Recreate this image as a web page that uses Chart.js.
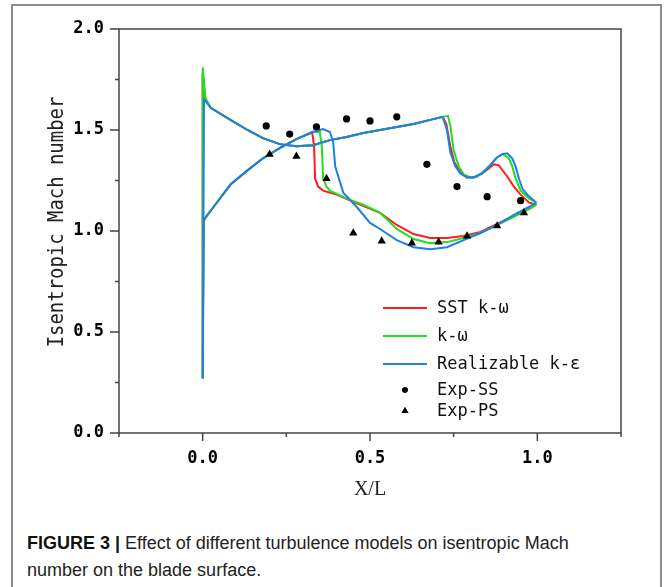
<!DOCTYPE html>
<html lang="en">
<head>
  <meta charset="UTF-8">
  <title>Isentropic Mach number on the blade surface</title>
  <script src="https://cdn.jsdelivr.net/npm/chart.js"></script>
  <style>
    body {
      margin: 0;
      width: 664px;
      height: 587px;
      overflow: hidden;
      position: relative;
      background: #fff;
      font-family: 'Liberation Sans', Arial, sans-serif;
    }

    .frame {
      position: absolute;
      left: 11px;
      top: 4px;
      width: 647px;
      height: 640px;
      border: 2px solid #8c8c8c;
    }

    #machChart {
      position: absolute;
      left: 0;
      top: 0;
    }

    .caption {
      position: absolute;
      left: 27px;
      top: 530px;
      font-size: 18px;
      line-height: 27px;
      color: #222;
    }

    .caption b {
      color: #111;
    }
  </style>
</head>
<body>

  <div class="frame"></div>
  <canvas id="machChart" width="664" height="510"></canvas>

  <div class="caption">
    <b>FIGURE 3 |</b> Effect of different turbulence models on isentropic Mach<br>
    number on the blade surface.
  </div>

  <script>
    // SST k-omega: pressure side and suction side (suction side starts at the stagnation point)
    const sstPsX = [0.003, 0.01, 0.033, 0.083, 0.134, 0.18, 0.23, 0.28, 0.327, 0.333, 0.336, 0.345, 0.36, 0.40, 0.45, 0.53, 0.58, 0.63, 0.68, 0.73, 0.78, 0.83, 0.88, 0.93, 0.976, 0.997];
    const sstPsM = [1.05, 1.07, 1.12, 1.23, 1.30, 1.36, 1.41, 1.455, 1.49, 1.42, 1.26, 1.22, 1.20, 1.18, 1.145, 1.09, 1.03, 0.985, 0.965, 0.965, 0.975, 0.995, 1.035, 1.075, 1.11, 1.13];
    const sstSsX = [0, 0, 0.008, 0.024, 0.083, 0.134, 0.18, 0.23, 0.28, 0.33, 0.38, 0.43, 0.48, 0.53, 0.58, 0.63, 0.68, 0.717, 0.728, 0.74, 0.752, 0.77, 0.79, 0.81, 0.835, 0.855, 0.87, 0.885, 0.91, 0.93, 0.95, 0.976, 0.997];
    const sstSsM = [0.27, 1.78, 1.65, 1.61, 1.55, 1.50, 1.46, 1.43, 1.42, 1.425, 1.45, 1.465, 1.485, 1.50, 1.515, 1.53, 1.55, 1.565, 1.53, 1.42, 1.34, 1.29, 1.265, 1.265, 1.285, 1.31, 1.33, 1.325, 1.27, 1.22, 1.18, 1.14, 1.13];

    // k-omega
    const kwPsX = [0.003, 0.01, 0.033, 0.083, 0.134, 0.18, 0.23, 0.28, 0.33, 0.35, 0.356, 0.36, 0.37, 0.38, 0.43, 0.48, 0.53, 0.58, 0.63, 0.68, 0.73, 0.78, 0.83, 0.88, 0.93, 0.976, 0.997];
    const kwPsM = [1.05, 1.07, 1.12, 1.23, 1.30, 1.36, 1.41, 1.455, 1.49, 1.49, 1.42, 1.26, 1.22, 1.20, 1.16, 1.13, 1.09, 1.01, 0.96, 0.94, 0.945, 0.965, 0.99, 1.03, 1.07, 1.11, 1.13];
    const kwSsX = [0, 0, 0.008, 0.024, 0.083, 0.134, 0.18, 0.23, 0.28, 0.33, 0.38, 0.43, 0.48, 0.53, 0.58, 0.63, 0.68, 0.717, 0.733, 0.74, 0.75, 0.765, 0.78, 0.80, 0.82, 0.84, 0.86, 0.88, 0.896, 0.915, 0.925, 0.935, 0.95, 0.976, 0.997];
    const kwSsM = [0.27, 1.81, 1.66, 1.61, 1.55, 1.50, 1.46, 1.43, 1.42, 1.425, 1.45, 1.465, 1.485, 1.50, 1.515, 1.53, 1.55, 1.565, 1.57, 1.52, 1.40, 1.32, 1.28, 1.265, 1.27, 1.295, 1.33, 1.365, 1.38, 1.36, 1.32, 1.26, 1.20, 1.16, 1.14];

    // Realizable k-epsilon
    const rkePsX = [0.003, 0.01, 0.033, 0.083, 0.134, 0.18, 0.23, 0.28, 0.33, 0.36, 0.38, 0.39, 0.396, 0.42, 0.46, 0.50, 0.53, 0.58, 0.63, 0.68, 0.73, 0.78, 0.83, 0.88, 0.93, 0.976, 0.997];
    const rkePsM = [1.05, 1.07, 1.12, 1.23, 1.30, 1.36, 1.41, 1.455, 1.49, 1.505, 1.49, 1.44, 1.32, 1.19, 1.12, 1.04, 1.01, 0.955, 0.92, 0.91, 0.92, 0.955, 0.99, 1.03, 1.08, 1.12, 1.14];
    const rkeSsX = [0, 0.004, 0.01, 0.024, 0.083, 0.134, 0.18, 0.23, 0.28, 0.33, 0.38, 0.43, 0.48, 0.53, 0.58, 0.63, 0.68, 0.717, 0.73, 0.74, 0.755, 0.77, 0.79, 0.81, 0.835, 0.857, 0.877, 0.895, 0.91, 0.925, 0.935, 0.945, 0.955, 0.97, 0.99, 0.997];
    const rkeSsM = [0.27, 1.65, 1.64, 1.61, 1.55, 1.50, 1.46, 1.43, 1.42, 1.425, 1.45, 1.465, 1.485, 1.50, 1.515, 1.53, 1.55, 1.565, 1.50, 1.39, 1.32, 1.285, 1.265, 1.265, 1.285, 1.32, 1.36, 1.38, 1.385, 1.36, 1.32, 1.26, 1.21, 1.18, 1.15, 1.14];

    // measurements
    const expSsX = [0.19, 0.26, 0.34, 0.43, 0.50, 0.58, 0.67, 0.76, 0.85, 0.95];
    const expSsM = [1.52, 1.48, 1.515, 1.555, 1.545, 1.565, 1.33, 1.22, 1.17, 1.15];
    const expPsX = [0.20, 0.28, 0.37, 0.45, 0.535, 0.625, 0.705, 0.79, 0.88, 0.96];
    const expPsM = [1.38, 1.37, 1.26, 0.99, 0.95, 0.94, 0.945, 0.975, 1.025, 1.09];

    const xTicks = [0, 0.5, 1.0];
    const xMinor = [-0.25, 0.25, 0.75, 1.25];
    const yTicks = [0, 0.5, 1.0, 1.5, 2.0];
    const yMinor = [0.25, 0.75, 1.25, 1.75];

    const monoFont = '"DejaVu Sans Mono", "Liberation Mono", monospace';

    function toPoints(xs, ms) {
      return xs.map((x, i) => ({ x: x, y: ms[i] }));
    }

    // one closed loop per model: trailing edge -> pressure side -> LE -> suction side -> trailing edge
    function bladeLoop(psX, psM, ssX, ssM) {
      return toPoints(psX, psM).reverse().concat(toPoints(ssX, ssM));
    }

    function lineSet(label, data, color, order) {
      return {
        label: label,
        data: data,
        showLine: true,
        borderColor: color,
        backgroundColor: color,
        borderWidth: 2,
        pointRadius: 0,
        pointHoverRadius: 0,
        tension: 0,
        order: order
      };
    }

    // frame, tick marks and the rotated y title
    const axesPlugin = {
      id: 'axesBox',
      afterDraw(chart) {
        const { ctx, chartArea: a, scales } = chart;
        const x = scales.x, y = scales.y;
        ctx.save();
        ctx.strokeStyle = '#444';
        ctx.lineWidth = 1.5;
        ctx.strokeRect(a.left, a.top, a.right - a.left, a.bottom - a.top);
        ctx.beginPath();
        xTicks.forEach(v => { const p = x.getPixelForValue(v); ctx.moveTo(p, a.bottom); ctx.lineTo(p, a.bottom + 8); });
        xMinor.forEach(v => { const p = x.getPixelForValue(v); ctx.moveTo(p, a.bottom); ctx.lineTo(p, a.bottom + 4); });
        yTicks.forEach(v => { const p = y.getPixelForValue(v); ctx.moveTo(a.left, p); ctx.lineTo(a.left - 9, p); });
        yMinor.forEach(v => { const p = y.getPixelForValue(v); ctx.moveTo(a.left, p); ctx.lineTo(a.left - 4, p); });
        ctx.stroke();

        ctx.translate(57, 222);
        ctx.rotate(-Math.PI / 2);
        ctx.scale(0.86, 1);
        ctx.fillStyle = '#222';
        ctx.font = '22px ' + monoFont;
        ctx.textAlign = 'center';
        ctx.textBaseline = 'middle';
        ctx.fillText('Isentropic Mach number', 0, 0);
        ctx.restore();
      }
    };

    // legend inside the plot, lower right
    const legendPlugin = {
      id: 'innerLegend',
      afterDraw(chart) {
        const { ctx, chartArea: a } = chart;
        const rows = [0, 28, 56, 82, 103];
        const top = a.top + 279;
        const x0 = a.left + 264;
        ctx.save();
        ctx.font = '17px ' + monoFont;
        ctx.textBaseline = 'middle';
        chart.data.datasets.forEach((ds, i) => {
          const yy = top + rows[i];
          if (ds.showLine) {
            ctx.strokeStyle = ds.borderColor;
            ctx.lineWidth = 2;
            ctx.beginPath();
            ctx.moveTo(x0, yy);
            ctx.lineTo(x0 + 44, yy);
            ctx.stroke();
          } else {
            Chart.helpers.drawPoint(ctx, {
              pointStyle: ds.pointStyle,
              radius: ds.pointRadius - 0.8,
              borderWidth: 0
            }, x0 + 22, yy);
            ctx.fillStyle = '#000';
            ctx.fill();
          }
          ctx.fillStyle = '#111';
          ctx.fillText(ds.label, x0 + 54, yy + 1);
        });
        ctx.restore();
      }
    };

    const ctx = document.getElementById('machChart').getContext('2d');
    new Chart(ctx, {
      type: 'scatter',
      data: {
        datasets: [
          lineSet('SST k-\u03c9', bladeLoop(sstPsX, sstPsM, sstSsX, sstSsM), '#ff1c1c', 4),
          lineSet('k-\u03c9', bladeLoop(kwPsX, kwPsM, kwSsX, kwSsM), '#1ee01e', 3),
          lineSet('Realizable k-\u03b5', bladeLoop(rkePsX, rkePsM, rkeSsX, rkeSsM), '#1f7fe3', 2),
          {
            label: 'Exp-SS',
            data: toPoints(expSsX, expSsM),
            pointStyle: 'circle',
            pointRadius: 3.6,
            backgroundColor: '#000',
            borderColor: '#000',
            borderWidth: 0,
            order: 1
          },
          {
            label: 'Exp-PS',
            data: toPoints(expPsX, expPsM),
            pointStyle: 'triangle',
            pointRadius: 4.8,
            backgroundColor: '#000',
            borderColor: '#000',
            borderWidth: 0,
            order: 1
          }
        ]
      },
      options: {
        responsive: false,
        animation: false,
        devicePixelRatio: 1,
        layout: { padding: { top: 29, right: 43, left: 0, bottom: 0 } },
        plugins: {
          legend: { display: false },
          tooltip: { enabled: false }
        },
        scales: {
          x: {
            type: 'linear',
            min: -0.25,
            max: 1.25,
            afterBuildTicks: s => { s.ticks = xTicks.map(v => ({ value: v })); },
            afterFit: s => { s.height = 77; },
            grid: { display: false, drawTicks: false },
            border: { display: false },
            ticks: {
              padding: 15,
              color: '#000',
              font: { family: monoFont, size: 17, weight: 'bold' },
              callback: v => v.toFixed(1)
            },
            title: {
              display: true,
              text: 'X/L',
              color: '#222',
              font: { family: '"Liberation Serif", "Times New Roman", serif', size: 20 },
              padding: { top: 0, bottom: 8 }
            }
          },
          y: {
            min: 0,
            max: 2,
            afterBuildTicks: s => { s.ticks = yTicks.map(v => ({ value: v })); },
            afterFit: s => { s.width = 119; },
            grid: { display: false, drawTicks: false },
            border: { display: false },
            ticks: {
              padding: 15,
              color: '#000',
              font: { family: monoFont, size: 17, weight: 'bold' },
              callback: v => v.toFixed(1)
            }
          }
        }
      },
      plugins: [axesPlugin, legendPlugin]
    });
  </script>

</body>
</html>
